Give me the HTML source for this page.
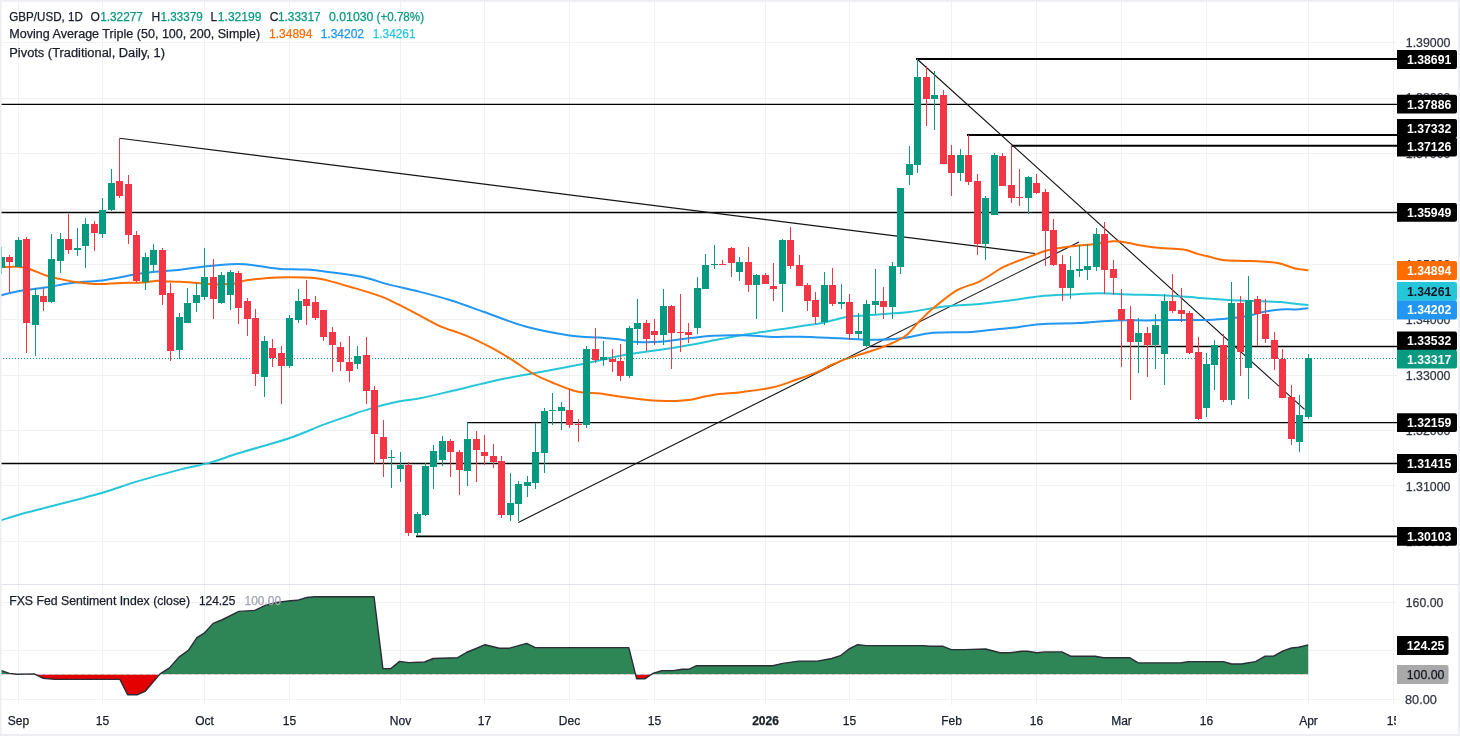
<!DOCTYPE html><html><head><meta charset="utf-8"><style>html,body{margin:0;padding:0;background:#fff;}svg{display:block;font-family:"Liberation Sans",sans-serif;will-change:transform;}</style></head><body>
<svg width="1460" height="736" viewBox="0 0 1460 736">
<rect x="0" y="0" width="1460" height="736" fill="#ffffff"/>
<path d="M0 541.5H1397 M0 485.5H1397 M0 430.5H1397 M0 375.5H1397 M0 319.5H1397 M0 264.5H1397 M0 209.5H1397 M0 153.5H1397 M0 98.5H1397 M0 42.5H1397 M0 602.5H1397 M0 650.5H1397 M0 699.5H1397 M18.5 2V705 M102.5 2V705 M204.5 2V705 M289.5 2V705 M400.5 2V705 M484.5 2V705 M569.5 2V705 M654.5 2V705 M765.5 2V705 M849.5 2V705 M951.5 2V705 M1036.5 2V705 M1121.5 2V705 M1206.5 2V705 M1308.5 2V705 M1393.5 2V705" stroke="#f0f1f3" stroke-width="1" fill="none"/>
<path d="M0 584.5H1458" stroke="#e0e3eb" stroke-width="1"/>
<path d="M916 59H1397" stroke="#000" stroke-width="2"/>
<path d="M0 104.4H1397" stroke="#000" stroke-width="1.3"/>
<path d="M967 135H1397" stroke="#000" stroke-width="2"/>
<path d="M1011 145.8H1397" stroke="#000" stroke-width="2"/>
<path d="M0 212.5H1397" stroke="#000" stroke-width="1.5"/>
<path d="M870 346.5H1397" stroke="#000" stroke-width="1.4"/>
<path d="M467 422.6H1397" stroke="#000" stroke-width="1.4"/>
<path d="M0 463.5H1397" stroke="#000" stroke-width="1.4"/>
<path d="M416 536.4H1397" stroke="#000" stroke-width="1.6"/>
<path d="M119.5 138.2L1035 253.5M518.3 522.4L1079 242M917 59L1304.6 409.4" stroke="#131313" stroke-width="1.1" fill="none"/>
<path d="M0.0 520.6C3.0 519.7 9.6 517.4 18.1 515.0C26.6 512.6 37.1 510.0 51.2 506.3C65.3 502.6 88.4 496.8 102.5 492.7C116.6 488.6 122.5 485.8 135.6 481.9C148.7 478.0 168.4 472.6 180.8 469.4C193.2 466.2 200.1 465.4 210.0 462.6C219.9 459.8 227.0 456.8 240.1 452.8C253.2 448.8 274.6 443.1 288.4 438.5C302.2 433.9 313.0 428.7 323.0 424.9C333.0 421.1 340.6 418.6 348.6 415.9C356.6 413.1 362.9 410.8 371.2 408.4C379.5 406.0 390.3 403.3 398.4 401.6C406.5 399.9 410.2 400.3 420.0 398.3C429.8 396.3 444.9 392.6 457.4 389.7C469.8 386.8 482.0 383.4 494.7 380.7C507.4 377.9 519.1 375.9 533.6 373.2C548.1 370.5 570.3 366.5 581.4 364.3C592.5 362.1 591.9 361.9 600.0 360.2C608.1 358.5 617.6 356.0 630.1 353.9C642.6 351.8 660.2 349.9 675.3 347.4C690.4 344.9 708.0 341.4 720.6 339.1C733.2 336.8 740.7 335.4 750.7 333.8C760.7 332.2 772.6 330.6 780.8 329.3C789.0 328.1 792.9 327.4 800.0 326.3C807.1 325.2 815.6 324.3 823.4 322.7C831.2 321.1 837.8 318.3 846.9 316.9C856.0 315.5 867.7 315.3 878.1 314.5C888.5 313.7 899.0 313.2 909.4 312.0C919.8 310.8 928.9 308.4 940.6 307.0C952.3 305.6 968.1 305.0 979.7 303.9C991.3 302.8 999.9 301.8 1010.0 300.5C1020.1 299.2 1030.0 297.3 1040.1 296.3C1050.1 295.3 1060.2 295.0 1070.3 294.5C1080.3 294.0 1090.4 293.3 1100.4 293.3C1110.5 293.3 1120.5 294.2 1130.6 294.5C1140.6 294.8 1150.7 294.8 1160.7 295.2C1170.7 295.6 1184.2 296.6 1190.8 297.1C1197.3 297.6 1193.7 297.5 1200.0 298.0C1206.3 298.5 1219.0 299.4 1228.5 299.9C1238.0 300.4 1248.3 300.7 1257.0 301.1C1265.7 301.5 1274.5 301.7 1280.8 302.1C1287.1 302.5 1290.5 303.2 1295.1 303.7C1299.7 304.2 1306.2 304.9 1308.4 305.1" stroke="#26c6da" stroke-width="2" fill="none"/>
<path d="M0.0 295.7C3.0 294.9 10.6 292.6 18.1 291.2C25.6 289.8 35.7 288.8 45.2 287.4C54.7 286.0 65.2 283.9 75.3 282.6C85.3 281.4 95.5 281.3 105.5 279.9C115.5 278.5 128.1 275.6 135.6 274.3C143.1 273.0 143.7 273.0 150.7 272.3C157.7 271.6 170.1 270.9 177.8 270.1C185.5 269.3 188.3 268.4 197.0 267.4C205.7 266.4 222.1 264.8 230.1 264.3C238.1 263.8 240.2 264.0 245.2 264.3C250.2 264.6 254.5 265.5 260.3 266.3C266.1 267.1 272.4 268.3 279.9 268.9C287.4 269.4 297.5 269.1 305.5 269.6C313.5 270.1 318.6 270.7 328.1 271.9C337.6 273.1 352.6 274.8 362.7 276.9C372.8 279.0 378.8 281.9 388.4 284.4C397.9 286.9 409.6 289.2 420.0 291.9C430.4 294.5 439.9 296.9 450.6 300.3C461.3 303.7 472.0 307.7 484.3 312.0C496.6 316.3 510.4 322.3 524.6 326.2C538.8 330.1 556.9 333.5 569.5 335.4C582.1 337.3 591.1 336.9 600.0 337.6C608.9 338.4 616.3 339.1 622.6 339.9C628.9 340.6 631.4 341.8 637.7 342.1C644.0 342.4 652.8 342.3 660.3 341.8C667.8 341.3 674.1 340.1 682.9 339.1C691.7 338.1 703.0 336.4 713.0 335.8C723.0 335.2 733.2 335.1 743.2 335.3C753.2 335.5 763.8 336.7 773.3 336.9C782.8 337.1 789.0 336.5 800.0 336.7C811.0 336.9 827.3 337.8 839.0 338.3C850.7 338.8 859.9 339.8 870.3 339.8C880.7 339.8 891.2 339.5 901.6 338.3C912.0 337.1 921.1 333.9 932.8 332.8C944.5 331.8 961.5 332.6 971.9 332.0C982.3 331.4 988.1 330.1 995.3 329.4C1002.5 328.7 1007.5 328.5 1015.0 327.6C1022.5 326.7 1029.6 324.9 1040.1 324.2C1050.6 323.4 1065.2 323.7 1077.8 323.1C1090.4 322.5 1104.2 320.8 1115.5 320.4C1126.8 319.9 1135.5 320.4 1145.6 320.4C1155.6 320.3 1166.7 320.2 1175.8 320.1C1184.9 320.0 1192.0 320.2 1200.0 320.0C1208.0 319.8 1215.9 319.5 1223.8 318.9C1231.7 318.2 1241.2 317.2 1247.5 316.1C1253.8 315.0 1256.2 313.4 1261.8 312.3C1267.3 311.2 1275.2 309.9 1280.8 309.4C1286.3 308.9 1290.5 309.6 1295.1 309.4C1299.7 309.2 1306.2 308.4 1308.4 308.2" stroke="#2196f3" stroke-width="2" fill="none"/>
<path d="M0.0 267.1C3.0 267.1 13.1 266.4 18.1 266.8C23.1 267.2 25.6 267.9 30.1 269.3C34.6 270.7 40.7 273.8 45.2 275.3C49.7 276.8 52.3 277.3 57.3 278.4C62.3 279.5 69.3 281.2 75.3 282.1C81.3 283.0 88.4 283.6 93.4 283.9C98.4 284.2 101.0 284.1 105.5 283.9C110.0 283.7 114.3 283.1 120.6 282.9C126.9 282.7 137.4 282.9 143.2 282.6C149.0 282.3 151.4 281.1 155.2 280.9C159.0 280.7 161.5 281.2 165.8 281.4C170.1 281.5 175.0 281.5 180.8 281.8C186.6 282.1 194.7 282.8 200.4 283.2C206.1 283.6 209.4 284.3 215.1 284.4C220.8 284.5 229.7 284.2 234.7 283.6C239.7 283.0 239.7 281.6 245.2 280.6C250.7 279.7 260.3 278.5 267.8 277.9C275.3 277.3 282.6 277.2 290.4 277.2C298.2 277.2 308.2 277.3 314.5 277.9C320.8 278.5 322.1 279.1 328.1 280.6C334.1 282.1 341.9 284.4 350.7 287.0C359.5 289.6 372.8 293.4 380.8 296.4C388.8 299.3 392.4 301.5 398.9 304.7C405.4 307.9 413.0 312.0 420.0 315.7C427.0 319.4 433.4 323.4 440.9 326.6C448.4 329.8 456.3 331.6 464.8 335.1C473.3 338.6 484.2 343.9 491.7 347.8C499.2 351.7 502.7 353.9 509.7 358.3C516.7 362.7 526.6 370.0 533.6 374.0C540.6 378.0 544.3 379.3 551.5 382.2C558.7 385.1 568.9 389.6 577.0 391.5C585.1 393.4 592.4 392.6 600.0 393.5C607.6 394.4 613.8 395.9 622.6 397.1C631.4 398.3 643.9 400.0 652.7 400.6C661.5 401.2 669.0 401.0 675.3 400.9C681.6 400.8 684.1 400.7 690.4 399.7C696.7 398.7 704.2 396.2 713.0 394.9C721.8 393.6 733.2 393.2 743.2 391.9C753.2 390.6 764.5 389.3 773.3 387.3C782.1 385.3 788.1 382.6 795.9 379.8C803.7 377.1 814.1 373.3 820.0 370.8C825.9 368.3 826.8 367.0 831.3 365.0C835.8 363.0 840.9 360.7 846.9 358.6C852.9 356.5 859.9 354.8 867.2 352.3C874.5 349.8 884.1 346.7 890.6 343.8C897.1 340.9 901.6 338.9 906.3 335.2C911.0 331.5 914.4 326.3 918.8 321.9C923.2 317.5 926.5 313.8 932.8 308.6C939.0 303.4 948.5 295.2 956.3 290.6C964.1 286.1 971.9 285.2 979.7 281.3C987.5 277.4 996.4 270.7 1003.1 267.2C1009.8 263.7 1015.1 262.1 1020.0 260.2C1024.9 258.3 1028.0 257.2 1032.6 255.6C1037.2 253.9 1041.4 251.8 1047.7 250.3C1054.0 248.8 1062.8 247.6 1070.3 246.6C1077.8 245.6 1085.9 245.2 1092.9 244.3C1099.9 243.4 1107.5 241.7 1112.5 241.3C1117.5 240.9 1117.5 241.3 1123.0 242.1C1128.5 242.9 1139.3 245.3 1145.6 246.3C1151.9 247.3 1154.4 247.6 1160.7 248.1C1167.0 248.6 1177.0 248.6 1183.3 249.6C1189.6 250.6 1194.0 252.9 1198.4 254.1C1202.8 255.3 1205.4 255.7 1209.5 256.7C1213.6 257.7 1217.2 259.3 1222.8 260.0C1228.3 260.7 1237.1 260.7 1242.8 260.9C1248.5 261.1 1251.8 260.9 1257.0 261.2C1262.2 261.4 1269.9 261.9 1274.2 262.4C1278.5 262.9 1279.2 263.3 1282.7 264.3C1286.2 265.3 1290.8 267.5 1295.1 268.5C1299.4 269.5 1306.2 269.9 1308.4 270.2" stroke="#ff6d00" stroke-width="2" fill="none"/>
<path d="M0 358.5H1397" stroke="#089981" stroke-width="1" stroke-dasharray="1 2" fill="none"/>
<rect x="1" y="247" width="1" height="27" fill="#089981"/><rect x="-2" y="257" width="7" height="11" fill="#089981"/>
<rect x="9" y="255" width="1" height="38" fill="#f23645"/><rect x="6" y="257" width="7" height="5" fill="#f23645"/>
<rect x="18" y="237" width="1" height="30" fill="#089981"/><rect x="15" y="240" width="7" height="27" fill="#089981"/>
<rect x="26" y="237" width="1" height="116" fill="#f23645"/><rect x="23" y="239" width="7" height="84" fill="#f23645"/>
<rect x="35" y="288" width="1" height="68" fill="#089981"/><rect x="32" y="295" width="7" height="30" fill="#089981"/>
<rect x="43" y="288" width="1" height="23" fill="#f23645"/><rect x="40" y="296" width="7" height="6" fill="#f23645"/>
<rect x="51" y="234" width="1" height="69" fill="#089981"/><rect x="48" y="259" width="7" height="43" fill="#089981"/>
<rect x="60" y="233" width="1" height="40" fill="#089981"/><rect x="57" y="239" width="7" height="22" fill="#089981"/>
<rect x="68" y="214" width="1" height="40" fill="#f23645"/><rect x="65" y="239" width="7" height="11" fill="#f23645"/>
<rect x="77" y="228" width="1" height="28" fill="#089981"/><rect x="74" y="248" width="7" height="2" fill="#089981"/>
<rect x="85" y="218" width="1" height="50" fill="#089981"/><rect x="82" y="224" width="7" height="22" fill="#089981"/>
<rect x="94" y="221" width="1" height="30" fill="#f23645"/><rect x="91" y="224" width="7" height="9" fill="#f23645"/>
<rect x="102" y="198" width="1" height="40" fill="#089981"/><rect x="99" y="210" width="7" height="24" fill="#089981"/>
<rect x="111" y="169" width="1" height="42" fill="#089981"/><rect x="108" y="183" width="7" height="27" fill="#089981"/>
<rect x="119" y="138" width="1" height="60" fill="#f23645"/><rect x="116" y="181" width="7" height="15" fill="#f23645"/>
<rect x="128" y="175" width="1" height="69" fill="#f23645"/><rect x="125" y="184" width="7" height="51" fill="#f23645"/>
<rect x="136" y="231" width="1" height="52" fill="#f23645"/><rect x="133" y="235" width="7" height="46" fill="#f23645"/>
<rect x="145" y="253" width="1" height="37" fill="#089981"/><rect x="142" y="257" width="7" height="25" fill="#089981"/>
<rect x="153" y="244" width="1" height="27" fill="#089981"/><rect x="150" y="250" width="7" height="15" fill="#089981"/>
<rect x="162" y="248" width="1" height="57" fill="#f23645"/><rect x="159" y="250" width="7" height="45" fill="#f23645"/>
<rect x="170" y="283" width="1" height="78" fill="#f23645"/><rect x="167" y="293" width="7" height="58" fill="#f23645"/>
<rect x="179" y="313" width="1" height="46" fill="#089981"/><rect x="176" y="317" width="7" height="33" fill="#089981"/>
<rect x="187" y="288" width="1" height="35" fill="#089981"/><rect x="184" y="303" width="7" height="20" fill="#089981"/>
<rect x="196" y="283" width="1" height="29" fill="#089981"/><rect x="193" y="295" width="7" height="8" fill="#089981"/>
<rect x="204" y="248" width="1" height="52" fill="#089981"/><rect x="201" y="277" width="7" height="20" fill="#089981"/>
<rect x="213" y="259" width="1" height="60" fill="#f23645"/><rect x="210" y="277" width="7" height="22" fill="#f23645"/>
<rect x="221" y="272" width="1" height="32" fill="#089981"/><rect x="218" y="275" width="7" height="28" fill="#089981"/>
<rect x="230" y="270" width="1" height="40" fill="#089981"/><rect x="227" y="272" width="7" height="23" fill="#089981"/>
<rect x="238" y="271" width="1" height="53" fill="#f23645"/><rect x="235" y="273" width="7" height="35" fill="#f23645"/>
<rect x="247" y="298" width="1" height="38" fill="#f23645"/><rect x="244" y="301" width="7" height="18" fill="#f23645"/>
<rect x="255" y="309" width="1" height="77" fill="#f23645"/><rect x="252" y="318" width="7" height="56" fill="#f23645"/>
<rect x="264" y="336" width="1" height="61" fill="#089981"/><rect x="261" y="341" width="7" height="36" fill="#089981"/>
<rect x="272" y="339" width="1" height="28" fill="#f23645"/><rect x="269" y="348" width="7" height="10" fill="#f23645"/>
<rect x="281" y="346" width="1" height="58" fill="#f23645"/><rect x="278" y="353" width="7" height="13" fill="#f23645"/>
<rect x="289" y="315" width="1" height="53" fill="#089981"/><rect x="286" y="318" width="7" height="48" fill="#089981"/>
<rect x="298" y="289" width="1" height="34" fill="#089981"/><rect x="295" y="301" width="7" height="19" fill="#089981"/>
<rect x="306" y="280" width="1" height="45" fill="#f23645"/><rect x="303" y="299" width="7" height="7" fill="#f23645"/>
<rect x="315" y="296" width="1" height="24" fill="#f23645"/><rect x="312" y="302" width="7" height="16" fill="#f23645"/>
<rect x="323" y="310" width="1" height="31" fill="#f23645"/><rect x="320" y="310" width="7" height="27" fill="#f23645"/>
<rect x="332" y="327" width="1" height="45" fill="#f23645"/><rect x="329" y="332" width="7" height="13" fill="#f23645"/>
<rect x="340" y="342" width="1" height="29" fill="#f23645"/><rect x="337" y="347" width="7" height="15" fill="#f23645"/>
<rect x="349" y="336" width="1" height="46" fill="#f23645"/><rect x="346" y="362" width="7" height="9" fill="#f23645"/>
<rect x="357" y="346" width="1" height="23" fill="#089981"/><rect x="354" y="356" width="7" height="8" fill="#089981"/>
<rect x="366" y="337" width="1" height="67" fill="#f23645"/><rect x="363" y="355" width="7" height="36" fill="#f23645"/>
<rect x="374" y="386" width="1" height="78" fill="#f23645"/><rect x="371" y="390" width="7" height="44" fill="#f23645"/>
<rect x="383" y="420" width="1" height="57" fill="#f23645"/><rect x="380" y="437" width="7" height="22" fill="#f23645"/>
<rect x="391" y="450" width="1" height="38" fill="#089981"/><rect x="388" y="457" width="7" height="1" fill="#089981"/>
<rect x="400" y="452" width="1" height="30" fill="#089981"/><rect x="397" y="465" width="7" height="4" fill="#089981"/>
<rect x="408" y="462" width="1" height="74" fill="#f23645"/><rect x="405" y="465" width="7" height="68" fill="#f23645"/>
<rect x="417" y="512" width="1" height="24" fill="#089981"/><rect x="414" y="514" width="7" height="19" fill="#089981"/>
<rect x="425" y="463" width="1" height="53" fill="#089981"/><rect x="422" y="466" width="7" height="49" fill="#089981"/>
<rect x="433" y="445" width="1" height="44" fill="#089981"/><rect x="430" y="451" width="7" height="16" fill="#089981"/>
<rect x="442" y="436" width="1" height="30" fill="#089981"/><rect x="439" y="441" width="7" height="19" fill="#089981"/>
<rect x="450" y="439" width="1" height="38" fill="#f23645"/><rect x="447" y="441" width="7" height="11" fill="#f23645"/>
<rect x="459" y="450" width="1" height="45" fill="#f23645"/><rect x="456" y="452" width="7" height="18" fill="#f23645"/>
<rect x="467" y="422" width="1" height="64" fill="#089981"/><rect x="464" y="439" width="7" height="32" fill="#089981"/>
<rect x="476" y="431" width="1" height="51" fill="#f23645"/><rect x="473" y="439" width="7" height="11" fill="#f23645"/>
<rect x="484" y="435" width="1" height="30" fill="#f23645"/><rect x="481" y="452" width="7" height="4" fill="#f23645"/>
<rect x="493" y="444" width="1" height="24" fill="#f23645"/><rect x="490" y="456" width="7" height="6" fill="#f23645"/>
<rect x="501" y="456" width="1" height="62" fill="#f23645"/><rect x="498" y="461" width="7" height="54" fill="#f23645"/>
<rect x="510" y="473" width="1" height="48" fill="#089981"/><rect x="507" y="503" width="7" height="12" fill="#089981"/>
<rect x="518" y="481" width="1" height="40" fill="#089981"/><rect x="515" y="484" width="7" height="20" fill="#089981"/>
<rect x="527" y="476" width="1" height="21" fill="#089981"/><rect x="524" y="482" width="7" height="4" fill="#089981"/>
<rect x="535" y="423" width="1" height="66" fill="#089981"/><rect x="532" y="452" width="7" height="31" fill="#089981"/>
<rect x="544" y="408" width="1" height="65" fill="#089981"/><rect x="541" y="411" width="7" height="42" fill="#089981"/>
<rect x="552" y="393" width="1" height="32" fill="#089981"/><rect x="549" y="410" width="7" height="1" fill="#089981"/>
<rect x="561" y="402" width="1" height="28" fill="#089981"/><rect x="558" y="407" width="7" height="4" fill="#089981"/>
<rect x="569" y="389" width="1" height="39" fill="#f23645"/><rect x="566" y="410" width="7" height="15" fill="#f23645"/>
<rect x="578" y="419" width="1" height="23" fill="#f23645"/><rect x="575" y="424" width="7" height="1" fill="#f23645"/>
<rect x="586" y="346" width="1" height="82" fill="#089981"/><rect x="583" y="349" width="7" height="76" fill="#089981"/>
<rect x="595" y="328" width="1" height="35" fill="#f23645"/><rect x="592" y="349" width="7" height="11" fill="#f23645"/>
<rect x="603" y="341" width="1" height="25" fill="#089981"/><rect x="600" y="357" width="7" height="3" fill="#089981"/>
<rect x="612" y="349" width="1" height="23" fill="#f23645"/><rect x="609" y="359" width="7" height="3" fill="#f23645"/>
<rect x="620" y="344" width="1" height="37" fill="#f23645"/><rect x="617" y="361" width="7" height="15" fill="#f23645"/>
<rect x="629" y="326" width="1" height="52" fill="#089981"/><rect x="626" y="328" width="7" height="48" fill="#089981"/>
<rect x="637" y="299" width="1" height="46" fill="#089981"/><rect x="634" y="323" width="7" height="6" fill="#089981"/>
<rect x="646" y="320" width="1" height="31" fill="#f23645"/><rect x="643" y="323" width="7" height="16" fill="#f23645"/>
<rect x="654" y="319" width="1" height="26" fill="#f23645"/><rect x="651" y="331" width="7" height="4" fill="#f23645"/>
<rect x="663" y="289" width="1" height="56" fill="#089981"/><rect x="660" y="306" width="7" height="29" fill="#089981"/>
<rect x="671" y="305" width="1" height="64" fill="#f23645"/><rect x="668" y="306" width="7" height="27" fill="#f23645"/>
<rect x="680" y="294" width="1" height="58" fill="#f23645"/><rect x="677" y="332" width="7" height="1" fill="#f23645"/>
<rect x="688" y="323" width="1" height="20" fill="#f23645"/><rect x="685" y="332" width="7" height="3" fill="#f23645"/>
<rect x="697" y="277" width="1" height="57" fill="#089981"/><rect x="694" y="288" width="7" height="40" fill="#089981"/>
<rect x="705" y="254" width="1" height="35" fill="#089981"/><rect x="702" y="265" width="7" height="24" fill="#089981"/>
<rect x="714" y="245" width="1" height="24" fill="#089981"/><rect x="711" y="264" width="7" height="1" fill="#089981"/>
<rect x="722" y="260" width="1" height="5" fill="#f23645"/><rect x="719" y="264" width="7" height="1" fill="#f23645"/>
<rect x="731" y="247" width="1" height="30" fill="#f23645"/><rect x="728" y="248" width="7" height="15" fill="#f23645"/>
<rect x="739" y="257" width="1" height="24" fill="#089981"/><rect x="736" y="262" width="7" height="10" fill="#089981"/>
<rect x="748" y="247" width="1" height="45" fill="#f23645"/><rect x="745" y="262" width="7" height="23" fill="#f23645"/>
<rect x="756" y="274" width="1" height="45" fill="#089981"/><rect x="753" y="275" width="7" height="10" fill="#089981"/>
<rect x="765" y="273" width="1" height="11" fill="#f23645"/><rect x="762" y="275" width="7" height="9" fill="#f23645"/>
<rect x="773" y="263" width="1" height="38" fill="#f23645"/><rect x="770" y="286" width="7" height="3" fill="#f23645"/>
<rect x="782" y="239" width="1" height="73" fill="#089981"/><rect x="779" y="240" width="7" height="44" fill="#089981"/>
<rect x="790" y="227" width="1" height="42" fill="#f23645"/><rect x="787" y="240" width="7" height="26" fill="#f23645"/>
<rect x="799" y="255" width="1" height="31" fill="#f23645"/><rect x="796" y="265" width="7" height="21" fill="#f23645"/>
<rect x="807" y="283" width="1" height="28" fill="#f23645"/><rect x="804" y="285" width="7" height="16" fill="#f23645"/>
<rect x="815" y="292" width="1" height="32" fill="#f23645"/><rect x="812" y="300" width="7" height="17" fill="#f23645"/>
<rect x="824" y="272" width="1" height="53" fill="#089981"/><rect x="821" y="285" width="7" height="37" fill="#089981"/>
<rect x="832" y="268" width="1" height="38" fill="#f23645"/><rect x="829" y="285" width="7" height="19" fill="#f23645"/>
<rect x="841" y="284" width="1" height="25" fill="#089981"/><rect x="838" y="302" width="7" height="2" fill="#089981"/>
<rect x="849" y="294" width="1" height="46" fill="#f23645"/><rect x="846" y="302" width="7" height="32" fill="#f23645"/>
<rect x="858" y="313" width="1" height="26" fill="#089981"/><rect x="855" y="331" width="7" height="3" fill="#089981"/>
<rect x="866" y="300" width="1" height="47" fill="#089981"/><rect x="863" y="304" width="7" height="42" fill="#089981"/>
<rect x="875" y="269" width="1" height="45" fill="#089981"/><rect x="872" y="301" width="7" height="4" fill="#089981"/>
<rect x="883" y="287" width="1" height="32" fill="#f23645"/><rect x="880" y="301" width="7" height="6" fill="#f23645"/>
<rect x="892" y="262" width="1" height="57" fill="#089981"/><rect x="889" y="266" width="7" height="41" fill="#089981"/>
<rect x="900" y="188" width="1" height="86" fill="#089981"/><rect x="897" y="188" width="7" height="79" fill="#089981"/>
<rect x="909" y="146" width="1" height="39" fill="#089981"/><rect x="906" y="164" width="7" height="11" fill="#089981"/>
<rect x="917" y="59" width="1" height="114" fill="#089981"/><rect x="914" y="77" width="7" height="88" fill="#089981"/>
<rect x="926" y="66" width="1" height="60" fill="#f23645"/><rect x="923" y="77" width="7" height="22" fill="#f23645"/>
<rect x="934" y="71" width="1" height="59" fill="#089981"/><rect x="931" y="95" width="7" height="4" fill="#089981"/>
<rect x="943" y="90" width="1" height="74" fill="#f23645"/><rect x="940" y="95" width="7" height="69" fill="#f23645"/>
<rect x="951" y="145" width="1" height="51" fill="#f23645"/><rect x="948" y="155" width="7" height="18" fill="#f23645"/>
<rect x="960" y="149" width="1" height="32" fill="#089981"/><rect x="957" y="155" width="7" height="18" fill="#089981"/>
<rect x="968" y="135" width="1" height="50" fill="#f23645"/><rect x="965" y="155" width="7" height="27" fill="#f23645"/>
<rect x="977" y="174" width="1" height="81" fill="#f23645"/><rect x="974" y="181" width="7" height="63" fill="#f23645"/>
<rect x="985" y="196" width="1" height="64" fill="#089981"/><rect x="982" y="198" width="7" height="46" fill="#089981"/>
<rect x="994" y="153" width="1" height="62" fill="#089981"/><rect x="991" y="155" width="7" height="60" fill="#089981"/>
<rect x="1002" y="153" width="1" height="33" fill="#f23645"/><rect x="999" y="156" width="7" height="30" fill="#f23645"/>
<rect x="1011" y="145" width="1" height="58" fill="#f23645"/><rect x="1008" y="185" width="7" height="13" fill="#f23645"/>
<rect x="1019" y="169" width="1" height="37" fill="#f23645"/><rect x="1016" y="197" width="7" height="1" fill="#f23645"/>
<rect x="1028" y="176" width="1" height="38" fill="#089981"/><rect x="1025" y="177" width="7" height="21" fill="#089981"/>
<rect x="1036" y="174" width="1" height="20" fill="#f23645"/><rect x="1033" y="183" width="7" height="10" fill="#f23645"/>
<rect x="1045" y="189" width="1" height="77" fill="#f23645"/><rect x="1042" y="192" width="7" height="39" fill="#f23645"/>
<rect x="1053" y="219" width="1" height="47" fill="#f23645"/><rect x="1050" y="230" width="7" height="35" fill="#f23645"/>
<rect x="1062" y="255" width="1" height="46" fill="#f23645"/><rect x="1059" y="264" width="7" height="24" fill="#f23645"/>
<rect x="1070" y="256" width="1" height="43" fill="#089981"/><rect x="1067" y="270" width="7" height="18" fill="#089981"/>
<rect x="1079" y="245" width="1" height="32" fill="#089981"/><rect x="1076" y="269" width="7" height="2" fill="#089981"/>
<rect x="1087" y="244" width="1" height="36" fill="#089981"/><rect x="1084" y="266" width="7" height="4" fill="#089981"/>
<rect x="1096" y="228" width="1" height="43" fill="#089981"/><rect x="1093" y="234" width="7" height="33" fill="#089981"/>
<rect x="1104" y="222" width="1" height="72" fill="#f23645"/><rect x="1101" y="234" width="7" height="36" fill="#f23645"/>
<rect x="1113" y="260" width="1" height="35" fill="#f23645"/><rect x="1110" y="269" width="7" height="9" fill="#f23645"/>
<rect x="1121" y="289" width="1" height="78" fill="#f23645"/><rect x="1118" y="309" width="7" height="11" fill="#f23645"/>
<rect x="1130" y="306" width="1" height="94" fill="#f23645"/><rect x="1127" y="319" width="7" height="23" fill="#f23645"/>
<rect x="1138" y="318" width="1" height="55" fill="#089981"/><rect x="1135" y="333" width="7" height="9" fill="#089981"/>
<rect x="1147" y="327" width="1" height="50" fill="#f23645"/><rect x="1144" y="333" width="7" height="12" fill="#f23645"/>
<rect x="1155" y="314" width="1" height="55" fill="#089981"/><rect x="1152" y="325" width="7" height="20" fill="#089981"/>
<rect x="1164" y="294" width="1" height="91" fill="#089981"/><rect x="1161" y="301" width="7" height="53" fill="#089981"/>
<rect x="1172" y="274" width="1" height="39" fill="#f23645"/><rect x="1169" y="301" width="7" height="10" fill="#f23645"/>
<rect x="1181" y="288" width="1" height="34" fill="#f23645"/><rect x="1178" y="310" width="7" height="4" fill="#f23645"/>
<rect x="1189" y="311" width="1" height="43" fill="#f23645"/><rect x="1186" y="313" width="7" height="40" fill="#f23645"/>
<rect x="1198" y="337" width="1" height="83" fill="#f23645"/><rect x="1195" y="352" width="7" height="67" fill="#f23645"/>
<rect x="1206" y="353" width="1" height="64" fill="#089981"/><rect x="1203" y="364" width="7" height="44" fill="#089981"/>
<rect x="1214" y="340" width="1" height="50" fill="#089981"/><rect x="1211" y="345" width="7" height="20" fill="#089981"/>
<rect x="1223" y="334" width="1" height="68" fill="#f23645"/><rect x="1220" y="345" width="7" height="55" fill="#f23645"/>
<rect x="1231" y="282" width="1" height="123" fill="#089981"/><rect x="1228" y="303" width="7" height="97" fill="#089981"/>
<rect x="1240" y="296" width="1" height="80" fill="#f23645"/><rect x="1237" y="303" width="7" height="49" fill="#f23645"/>
<rect x="1248" y="276" width="1" height="123" fill="#089981"/><rect x="1245" y="300" width="7" height="68" fill="#089981"/>
<rect x="1257" y="296" width="1" height="50" fill="#f23645"/><rect x="1254" y="299" width="7" height="15" fill="#f23645"/>
<rect x="1265" y="299" width="1" height="44" fill="#f23645"/><rect x="1262" y="314" width="7" height="25" fill="#f23645"/>
<rect x="1274" y="332" width="1" height="38" fill="#f23645"/><rect x="1271" y="340" width="7" height="19" fill="#f23645"/>
<rect x="1282" y="349" width="1" height="49" fill="#f23645"/><rect x="1279" y="359" width="7" height="39" fill="#f23645"/>
<rect x="1291" y="385" width="1" height="60" fill="#f23645"/><rect x="1288" y="397" width="7" height="42" fill="#f23645"/>
<rect x="1299" y="395" width="1" height="57" fill="#089981"/><rect x="1296" y="415" width="7" height="27" fill="#089981"/>
<rect x="1308" y="354" width="1" height="65" fill="#089981"/><rect x="1305" y="358" width="7" height="59" fill="#089981"/>
<defs><clipPath id="above"><rect x="0" y="584" width="1397" height="90.3"/></clipPath><clipPath id="below"><rect x="0" y="674.5" width="1397" height="31"/></clipPath></defs>
<path d="M0.0 670.1 L9.4 673.4 L17.1 674.2 L34.2 673.9 L42.8 678.2 L54.8 679.4 L119.9 679.4 L127.6 694.8 L137.0 694.8 L145.5 691.0 L160.1 673.9 L169.5 667.9 L178.9 657.1 L188.4 650.3 L196.9 637.6 L204.6 632.8 L213.2 623.4 L221.7 620.0 L238.9 611.4 L254.8 610.4 L265.8 605.2 L276.7 602.5 L290.4 600.8 L297.3 600.3 L306.8 597.5 L315.0 596.7 L374.0 596.7 L382.9 668.6 L390.9 668.6 L399.6 661.4 L408.8 662.6 L424.6 662.0 L433.2 658.5 L457.7 657.7 L466.3 652.5 L474.9 649.0 L485.0 644.7 L499.4 648.2 L509.5 648.2 L526.7 643.3 L535.4 647.6 L628.8 647.6 L636.6 678.7 L645.2 678.7 L652.7 673.5 L661.9 670.6 L673.4 670.6 L682.1 669.2 L689.3 669.2 L696.5 665.7 L772.7 665.7 L782.8 663.4 L798.7 661.1 L817.4 661.1 L831.8 658.5 L840.4 655.7 L849.0 649.0 L857.7 644.7 L866.3 645.6 L923.8 645.6 L929.6 646.2 L942.5 646.2 L951.2 649.6 L964.1 649.6 L985.7 649.0 L1000.0 652.8 L1010.1 652.8 L1021.7 651.3 L1027.4 651.3 L1036.9 652.8 L1044.7 651.9 L1061.9 651.9 L1070.6 656.2 L1095.0 656.2 L1103.6 657.7 L1129.5 657.7 L1138.2 662.9 L1181.5 662.8 L1188.7 661.6 L1223.4 661.6 L1231.7 664.0 L1241.3 664.0 L1255.6 661.6 L1265.2 656.1 L1273.6 656.1 L1283.1 650.8 L1291.5 648.0 L1298.7 647.3 L1308.2 644.9 L1308.2 674.3 L0.0 674.3 Z" fill="#2e8555" clip-path="url(#above)"/>
<path d="M0.0 670.1 L9.4 673.4 L17.1 674.2 L34.2 673.9 L42.8 678.2 L54.8 679.4 L119.9 679.4 L127.6 694.8 L137.0 694.8 L145.5 691.0 L160.1 673.9 L169.5 667.9 L178.9 657.1 L188.4 650.3 L196.9 637.6 L204.6 632.8 L213.2 623.4 L221.7 620.0 L238.9 611.4 L254.8 610.4 L265.8 605.2 L276.7 602.5 L290.4 600.8 L297.3 600.3 L306.8 597.5 L315.0 596.7 L374.0 596.7 L382.9 668.6 L390.9 668.6 L399.6 661.4 L408.8 662.6 L424.6 662.0 L433.2 658.5 L457.7 657.7 L466.3 652.5 L474.9 649.0 L485.0 644.7 L499.4 648.2 L509.5 648.2 L526.7 643.3 L535.4 647.6 L628.8 647.6 L636.6 678.7 L645.2 678.7 L652.7 673.5 L661.9 670.6 L673.4 670.6 L682.1 669.2 L689.3 669.2 L696.5 665.7 L772.7 665.7 L782.8 663.4 L798.7 661.1 L817.4 661.1 L831.8 658.5 L840.4 655.7 L849.0 649.0 L857.7 644.7 L866.3 645.6 L923.8 645.6 L929.6 646.2 L942.5 646.2 L951.2 649.6 L964.1 649.6 L985.7 649.0 L1000.0 652.8 L1010.1 652.8 L1021.7 651.3 L1027.4 651.3 L1036.9 652.8 L1044.7 651.9 L1061.9 651.9 L1070.6 656.2 L1095.0 656.2 L1103.6 657.7 L1129.5 657.7 L1138.2 662.9 L1181.5 662.8 L1188.7 661.6 L1223.4 661.6 L1231.7 664.0 L1241.3 664.0 L1255.6 661.6 L1265.2 656.1 L1273.6 656.1 L1283.1 650.8 L1291.5 648.0 L1298.7 647.3 L1308.2 644.9 L1308.2 674.3 L0.0 674.3 Z" fill="#e30000" clip-path="url(#below)"/>
<path d="M0 674.5H1308" stroke="#c4c6cc" stroke-width="1" stroke-dasharray="3 3.5"/>
<path d="M0.0 670.1 L9.4 673.4 L17.1 674.2 L34.2 673.9 L42.8 678.2 L54.8 679.4 L119.9 679.4 L127.6 694.8 L137.0 694.8 L145.5 691.0 L160.1 673.9 L169.5 667.9 L178.9 657.1 L188.4 650.3 L196.9 637.6 L204.6 632.8 L213.2 623.4 L221.7 620.0 L238.9 611.4 L254.8 610.4 L265.8 605.2 L276.7 602.5 L290.4 600.8 L297.3 600.3 L306.8 597.5 L315.0 596.7 L374.0 596.7 L382.9 668.6 L390.9 668.6 L399.6 661.4 L408.8 662.6 L424.6 662.0 L433.2 658.5 L457.7 657.7 L466.3 652.5 L474.9 649.0 L485.0 644.7 L499.4 648.2 L509.5 648.2 L526.7 643.3 L535.4 647.6 L628.8 647.6 L636.6 678.7 L645.2 678.7 L652.7 673.5 L661.9 670.6 L673.4 670.6 L682.1 669.2 L689.3 669.2 L696.5 665.7 L772.7 665.7 L782.8 663.4 L798.7 661.1 L817.4 661.1 L831.8 658.5 L840.4 655.7 L849.0 649.0 L857.7 644.7 L866.3 645.6 L923.8 645.6 L929.6 646.2 L942.5 646.2 L951.2 649.6 L964.1 649.6 L985.7 649.0 L1000.0 652.8 L1010.1 652.8 L1021.7 651.3 L1027.4 651.3 L1036.9 652.8 L1044.7 651.9 L1061.9 651.9 L1070.6 656.2 L1095.0 656.2 L1103.6 657.7 L1129.5 657.7 L1138.2 662.9 L1181.5 662.8 L1188.7 661.6 L1223.4 661.6 L1231.7 664.0 L1241.3 664.0 L1255.6 661.6 L1265.2 656.1 L1273.6 656.1 L1283.1 650.8 L1291.5 648.0 L1298.7 647.3 L1308.2 644.9" stroke="#2a2e39" stroke-width="1.4" fill="none" stroke-linejoin="round"/>
<text x="9.3" y="20.8" font-size="12" fill="#1a1e29" stroke="#1a1e29" stroke-width="0.25" text-anchor="start" font-weight="normal" textLength="73.6" lengthAdjust="spacingAndGlyphs">GBP/USD, 1D</text>
<text x="90.4" y="20.8" font-size="12" fill="#1a1e29" stroke="#1a1e29" stroke-width="0.25" text-anchor="start" font-weight="normal">O</text>
<text x="100.2" y="20.8" font-size="12" fill="#089981" stroke="#089981" stroke-width="0.25" text-anchor="start" font-weight="normal" textLength="42.7" lengthAdjust="spacingAndGlyphs">1.32277</text>
<text x="151.4" y="20.8" font-size="12" fill="#1a1e29" stroke="#1a1e29" stroke-width="0.25" text-anchor="start" font-weight="normal">H</text>
<text x="160.5" y="20.8" font-size="12" fill="#089981" stroke="#089981" stroke-width="0.25" text-anchor="start" font-weight="normal" textLength="42.2" lengthAdjust="spacingAndGlyphs">1.33379</text>
<text x="210.5" y="20.8" font-size="12" fill="#1a1e29" stroke="#1a1e29" stroke-width="0.25" text-anchor="start" font-weight="normal">L</text>
<text x="217.8" y="20.8" font-size="12" fill="#089981" stroke="#089981" stroke-width="0.25" text-anchor="start" font-weight="normal" textLength="43.7" lengthAdjust="spacingAndGlyphs">1.32199</text>
<text x="269.7" y="20.8" font-size="12" fill="#1a1e29" stroke="#1a1e29" stroke-width="0.25" text-anchor="start" font-weight="normal">C</text>
<text x="278" y="20.8" font-size="12" fill="#089981" stroke="#089981" stroke-width="0.25" text-anchor="start" font-weight="normal" textLength="42.7" lengthAdjust="spacingAndGlyphs">1.33317</text>
<text x="329" y="20.8" font-size="12" fill="#089981" stroke="#089981" stroke-width="0.25" text-anchor="start" font-weight="normal" textLength="44.4" lengthAdjust="spacingAndGlyphs">0.01030</text>
<text x="376.6" y="20.8" font-size="12" fill="#089981" stroke="#089981" stroke-width="0.25" text-anchor="start" font-weight="normal" textLength="47.4" lengthAdjust="spacingAndGlyphs">(+0.78%)</text>
<text x="9.3" y="38.3" font-size="12" fill="#1a1e29" stroke="#1a1e29" stroke-width="0.25" text-anchor="start" font-weight="normal" textLength="251" lengthAdjust="spacingAndGlyphs">Moving Average Triple (50, 100, 200, Simple)</text>
<text x="269" y="38.3" font-size="12" fill="#ff6d00" stroke="#ff6d00" stroke-width="0.25" text-anchor="start" font-weight="normal" textLength="43.5" lengthAdjust="spacingAndGlyphs">1.34894</text>
<text x="320.7" y="38.3" font-size="12" fill="#2196f3" stroke="#2196f3" stroke-width="0.25" text-anchor="start" font-weight="normal" textLength="43.3" lengthAdjust="spacingAndGlyphs">1.34202</text>
<text x="372.7" y="38.3" font-size="12" fill="#26c6da" stroke="#26c6da" stroke-width="0.25" text-anchor="start" font-weight="normal" textLength="42.8" lengthAdjust="spacingAndGlyphs">1.34261</text>
<text x="9.3" y="56.8" font-size="12" fill="#1a1e29" stroke="#1a1e29" stroke-width="0.25" text-anchor="start" font-weight="normal" textLength="155.7" lengthAdjust="spacingAndGlyphs">Pivots (Traditional, Daily, 1)</text>
<text x="9.2" y="605" font-size="12" fill="#1a1e29" stroke="#1a1e29" stroke-width="0.25" text-anchor="start" font-weight="normal" textLength="180.8" lengthAdjust="spacingAndGlyphs">FXS Fed Sentiment Index (close)</text>
<text x="198.9" y="605" font-size="12" fill="#1a1e29" stroke="#1a1e29" stroke-width="0.25" text-anchor="start" font-weight="normal" textLength="36.4" lengthAdjust="spacingAndGlyphs">124.25</text>
<text x="244.5" y="605" font-size="12" fill="#a3a6af" stroke="#a3a6af" stroke-width="0.25" text-anchor="start" font-weight="normal" textLength="36.6" lengthAdjust="spacingAndGlyphs">100.00</text>
<text x="1405.8" y="47.0" font-size="12" fill="#333742" stroke="#333742" stroke-width="0.25" text-anchor="start" font-weight="normal" textLength="44.6" lengthAdjust="spacingAndGlyphs">1.39000</text>
<text x="1405.8" y="102.47500000000005" font-size="12" fill="#333742" stroke="#333742" stroke-width="0.25" text-anchor="start" font-weight="normal" textLength="44.6" lengthAdjust="spacingAndGlyphs">1.38000</text>
<text x="1405.8" y="157.94999999999885" font-size="12" fill="#333742" stroke="#333742" stroke-width="0.25" text-anchor="start" font-weight="normal" textLength="44.6" lengthAdjust="spacingAndGlyphs">1.37000</text>
<text x="1405.8" y="213.4249999999989" font-size="12" fill="#333742" stroke="#333742" stroke-width="0.25" text-anchor="start" font-weight="normal" textLength="44.6" lengthAdjust="spacingAndGlyphs">1.36000</text>
<text x="1405.8" y="268.89999999999895" font-size="12" fill="#333742" stroke="#333742" stroke-width="0.25" text-anchor="start" font-weight="normal" textLength="44.6" lengthAdjust="spacingAndGlyphs">1.35000</text>
<text x="1405.8" y="324.37499999999903" font-size="12" fill="#333742" stroke="#333742" stroke-width="0.25" text-anchor="start" font-weight="normal" textLength="44.6" lengthAdjust="spacingAndGlyphs">1.34000</text>
<text x="1405.8" y="379.84999999999906" font-size="12" fill="#333742" stroke="#333742" stroke-width="0.25" text-anchor="start" font-weight="normal" textLength="44.6" lengthAdjust="spacingAndGlyphs">1.33000</text>
<text x="1405.8" y="435.32499999999914" font-size="12" fill="#333742" stroke="#333742" stroke-width="0.25" text-anchor="start" font-weight="normal" textLength="44.6" lengthAdjust="spacingAndGlyphs">1.32000</text>
<text x="1405.8" y="490.79999999999916" font-size="12" fill="#333742" stroke="#333742" stroke-width="0.25" text-anchor="start" font-weight="normal" textLength="44.6" lengthAdjust="spacingAndGlyphs">1.31000</text>
<text x="1405.8" y="546.2749999999992" font-size="12" fill="#333742" stroke="#333742" stroke-width="0.25" text-anchor="start" font-weight="normal" textLength="44.6" lengthAdjust="spacingAndGlyphs">1.30000</text>
<path d="M1397 50.1H1455a2 2 0 0 1 2 2V66.9a2 2 0 0 1 -2 2H1397Z" fill="#000"/><text x="1407" y="63.9" font-size="12" fill="#fff" stroke="#fff" stroke-width="0" text-anchor="start" font-weight="bold" textLength="44.3" lengthAdjust="spacingAndGlyphs">1.38691</text>
<path d="M1397 94.8H1455a2 2 0 0 1 2 2V111.6a2 2 0 0 1 -2 2H1397Z" fill="#000"/><text x="1407" y="108.60000000000001" font-size="12" fill="#fff" stroke="#fff" stroke-width="0" text-anchor="start" font-weight="bold" textLength="44.3" lengthAdjust="spacingAndGlyphs">1.37886</text>
<path d="M1397 119.1H1455a2 2 0 0 1 2 2V135.9a2 2 0 0 1 -2 2H1397Z" fill="#000"/><text x="1407" y="132.9" font-size="12" fill="#fff" stroke="#fff" stroke-width="0" text-anchor="start" font-weight="bold" textLength="44.3" lengthAdjust="spacingAndGlyphs">1.37332</text>
<path d="M1397 137.6H1455a2 2 0 0 1 2 2V154.4a2 2 0 0 1 -2 2H1397Z" fill="#000"/><text x="1407" y="151.4" font-size="12" fill="#fff" stroke="#fff" stroke-width="0" text-anchor="start" font-weight="bold" textLength="44.3" lengthAdjust="spacingAndGlyphs">1.37126</text>
<path d="M1397 202.9H1455a2 2 0 0 1 2 2V219.7a2 2 0 0 1 -2 2H1397Z" fill="#000"/><text x="1407" y="216.70000000000002" font-size="12" fill="#fff" stroke="#fff" stroke-width="0" text-anchor="start" font-weight="bold" textLength="44.3" lengthAdjust="spacingAndGlyphs">1.35949</text>
<path d="M1397 261.1H1455a2 2 0 0 1 2 2V277.9a2 2 0 0 1 -2 2H1397Z" fill="#ff6d00"/><text x="1407" y="274.9" font-size="12" fill="#fff" stroke="#fff" stroke-width="0" text-anchor="start" font-weight="bold" textLength="44.3" lengthAdjust="spacingAndGlyphs">1.34894</text>
<path d="M1397 281.9H1455a2 2 0 0 1 2 2V298.7a2 2 0 0 1 -2 2H1397Z" fill="#26c6da"/><text x="1407" y="295.7" font-size="12" fill="#131722" stroke="#131722" stroke-width="0" text-anchor="start" font-weight="bold" textLength="44.3" lengthAdjust="spacingAndGlyphs">1.34261</text>
<path d="M1397 300.6H1455a2 2 0 0 1 2 2V317.4a2 2 0 0 1 -2 2H1397Z" fill="#2196f3"/><text x="1407" y="314.4" font-size="12" fill="#fff" stroke="#fff" stroke-width="0" text-anchor="start" font-weight="bold" textLength="44.3" lengthAdjust="spacingAndGlyphs">1.34202</text>
<path d="M1397 331.4H1455a2 2 0 0 1 2 2V348.2a2 2 0 0 1 -2 2H1397Z" fill="#000"/><text x="1407" y="345.2" font-size="12" fill="#fff" stroke="#fff" stroke-width="0" text-anchor="start" font-weight="bold" textLength="44.3" lengthAdjust="spacingAndGlyphs">1.33532</text>
<path d="M1397 349.7H1455a2 2 0 0 1 2 2V366.5a2 2 0 0 1 -2 2H1397Z" fill="#089981"/><text x="1407" y="363.5" font-size="12" fill="#fff" stroke="#fff" stroke-width="0" text-anchor="start" font-weight="bold" textLength="44.3" lengthAdjust="spacingAndGlyphs">1.33317</text>
<path d="M1397 413.2H1455a2 2 0 0 1 2 2V430.0a2 2 0 0 1 -2 2H1397Z" fill="#000"/><text x="1407" y="427.0" font-size="12" fill="#fff" stroke="#fff" stroke-width="0" text-anchor="start" font-weight="bold" textLength="44.3" lengthAdjust="spacingAndGlyphs">1.32159</text>
<path d="M1397 454.1H1455a2 2 0 0 1 2 2V470.9a2 2 0 0 1 -2 2H1397Z" fill="#000"/><text x="1407" y="467.9" font-size="12" fill="#fff" stroke="#fff" stroke-width="0" text-anchor="start" font-weight="bold" textLength="44.3" lengthAdjust="spacingAndGlyphs">1.31415</text>
<path d="M1397 527.0H1455a2 2 0 0 1 2 2V543.8a2 2 0 0 1 -2 2H1397Z" fill="#000"/><text x="1407" y="540.8" font-size="12" fill="#fff" stroke="#fff" stroke-width="0" text-anchor="start" font-weight="bold" textLength="44.3" lengthAdjust="spacingAndGlyphs">1.30103</text>
<text x="1405.8" y="606.5500000000001" font-size="12" fill="#333742" stroke="#333742" stroke-width="0.25" text-anchor="start" font-weight="normal" textLength="37.5" lengthAdjust="spacingAndGlyphs">160.00</text>
<text x="1405" y="703.5500000000001" font-size="12" fill="#333742" stroke="#333742" stroke-width="0.25" text-anchor="start" font-weight="normal" textLength="31.8" lengthAdjust="spacingAndGlyphs">80.00</text>
<path d="M1397 636H1446.5a2 2 0 0 1 2 2V653a2 2 0 0 1 -2 2H1397Z" fill="#000"/>
<text x="1406.7" y="650" font-size="12" fill="#fff" stroke="#fff" stroke-width="0" text-anchor="start" font-weight="bold" textLength="37.8" lengthAdjust="spacingAndGlyphs">124.25</text>
<path d="M1397 665H1446.5a2 2 0 0 1 2 2V682a2 2 0 0 1 -2 2H1397Z" fill="#a9a9a9"/>
<text x="1406.7" y="679" font-size="12" fill="#131722" stroke="#131722" stroke-width="0.25" text-anchor="start" font-weight="normal" textLength="37.8" lengthAdjust="spacingAndGlyphs">100.00</text>
<text x="18.5" y="724.7" font-size="12" fill="#1a1e29" stroke="#1a1e29" stroke-width="0.25" text-anchor="middle" font-weight="normal">Sep</text>
<text x="102.5" y="724.7" font-size="12" fill="#1a1e29" stroke="#1a1e29" stroke-width="0.25" text-anchor="middle" font-weight="normal">15</text>
<text x="204.5" y="724.7" font-size="12" fill="#1a1e29" stroke="#1a1e29" stroke-width="0.25" text-anchor="middle" font-weight="normal">Oct</text>
<text x="289.5" y="724.7" font-size="12" fill="#1a1e29" stroke="#1a1e29" stroke-width="0.25" text-anchor="middle" font-weight="normal">15</text>
<text x="400.5" y="724.7" font-size="12" fill="#1a1e29" stroke="#1a1e29" stroke-width="0.25" text-anchor="middle" font-weight="normal">Nov</text>
<text x="484.5" y="724.7" font-size="12" fill="#1a1e29" stroke="#1a1e29" stroke-width="0.25" text-anchor="middle" font-weight="normal">17</text>
<text x="569.5" y="724.7" font-size="12" fill="#1a1e29" stroke="#1a1e29" stroke-width="0.25" text-anchor="middle" font-weight="normal">Dec</text>
<text x="654.5" y="724.7" font-size="12" fill="#1a1e29" stroke="#1a1e29" stroke-width="0.25" text-anchor="middle" font-weight="normal">15</text>
<text x="765.5" y="724.7" font-size="12" fill="#1a1e29" stroke="#1a1e29" stroke-width="0.25" text-anchor="middle" font-weight="bold">2026</text>
<text x="849.5" y="724.7" font-size="12" fill="#1a1e29" stroke="#1a1e29" stroke-width="0.25" text-anchor="middle" font-weight="normal">15</text>
<text x="951.5" y="724.7" font-size="12" fill="#1a1e29" stroke="#1a1e29" stroke-width="0.25" text-anchor="middle" font-weight="normal">Feb</text>
<text x="1036.5" y="724.7" font-size="12" fill="#1a1e29" stroke="#1a1e29" stroke-width="0.25" text-anchor="middle" font-weight="normal">16</text>
<text x="1121.5" y="724.7" font-size="12" fill="#1a1e29" stroke="#1a1e29" stroke-width="0.25" text-anchor="middle" font-weight="normal">Mar</text>
<text x="1206.5" y="724.7" font-size="12" fill="#1a1e29" stroke="#1a1e29" stroke-width="0.25" text-anchor="middle" font-weight="normal">16</text>
<text x="1308.5" y="724.7" font-size="12" fill="#1a1e29" stroke="#1a1e29" stroke-width="0.25" text-anchor="middle" font-weight="normal">Apr</text>
<rect x="1397" y="705" width="63" height="31" fill="#fff"/>
<clipPath id="tclip"><rect x="0" y="700" width="1396" height="36"/></clipPath>
<g clip-path="url(#tclip)"><text x="1393.5" y="724.7" font-size="12" fill="#1a1e29" stroke="#1a1e29" stroke-width="0.25" text-anchor="middle" font-weight="normal">15</text></g>
<path d="M0.8 0V736" stroke="#eceef2" stroke-width="1.6" fill="none"/><path d="M0 0.9H1460M1459 0V736M0 735H1460" stroke="#eceef2" stroke-width="1.85" fill="none"/>
</svg></body></html>
